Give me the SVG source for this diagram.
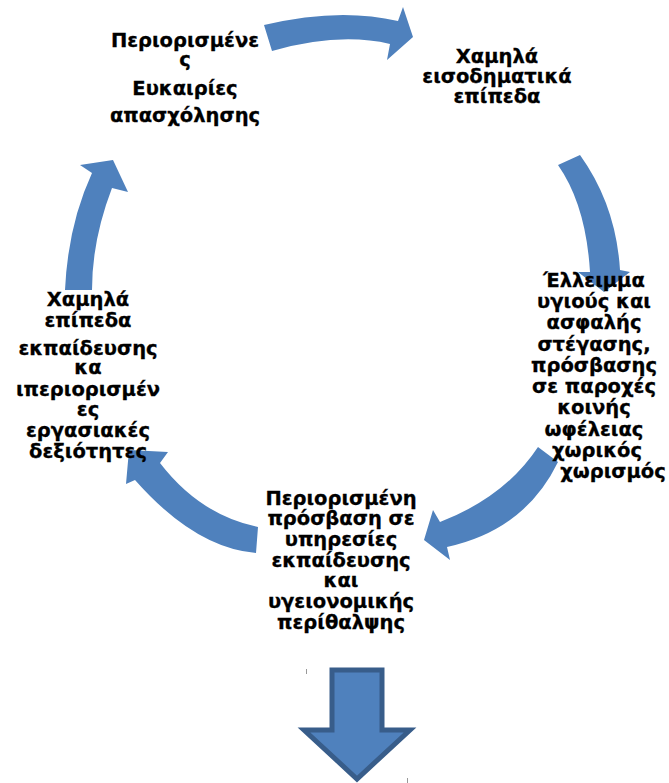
<svg xmlns="http://www.w3.org/2000/svg" width="669" height="783" viewBox="0 0 669 783">
<style>
.arr{fill:#4F81BD;stroke:none}
.t{font-family:"DejaVu Sans","Verdana",sans-serif;font-weight:bold;font-size:19.5px;fill:#000;stroke:#000;stroke-width:0.3;text-anchor:middle}
.big{fill:#4F81BD;stroke:#385D8A;stroke-width:5;stroke-linejoin:miter}
</style>
<rect width="669" height="783" fill="#fff"/>
<g id="connectors">
<path class="arr" d="M264,25 Q339,7 398,21 L403,7 L413,37 L387,60 L390,44 Q339,32 272,51 Z"/>
<path class="arr" d="M558,165 Q586,205 590,272 L578,272 L604,292 L630,272 L620,270 Q616,205 580,155 Z"/>
<path class="arr" d="M538,447 Q505,497 440,522 L433,510 L424,540 L450,560 L447,547 Q525,530 558,462 Z"/>
<path class="arr" d="M258,527 Q200,515 160,463 L168,452 L129,450 L126,484 L135,480 Q195,548 256,553 Z"/>
<path class="arr" d="M65,290 Q68,225 92,173 L80,165 L113,160 L128,192 L112,188 Q92,240 92,290 Z"/>
</g>
<g id="node-top-left">
<text class="t" x="185" y="47">Περιορισμένε</text>
<text class="t" x="185" y="66">ς</text>
<text class="t" x="185" y="95">Ευκαιρίες</text>
<text class="t" x="185" y="122">απασχόλησης</text>
</g>
<g id="node-top-right">
<text class="t" x="497" y="63">Χαμηλά</text>
<text class="t" x="497" y="83">εισοδηματικά</text>
<text class="t" x="497" y="103">επίπεδα</text>
</g>
<g id="node-right">
<text class="t" x="594" y="287">Έλλειμμα</text>
<text class="t" x="594" y="308">υγιούς και</text>
<text class="t" x="594" y="329">ασφαλής</text>
<text class="t" x="594" y="351">στέγασης,</text>
<text class="t" x="594" y="372">πρόσβασης</text>
<text class="t" x="594" y="393">σε παροχές</text>
<text class="t" x="594" y="414">κοινής</text>
<text class="t" x="594" y="436">ωφέλειας</text>
<text class="t" x="597" y="457">χωρικός</text>
<text class="t" x="613" y="478">χωρισμός</text>
</g>
<g id="node-bottom">
<text class="t" x="341" y="505">Περιορισμένη</text>
<text class="t" x="341" y="525">πρόσβαση σε</text>
<text class="t" x="341" y="546">υπηρεσίες</text>
<text class="t" x="341" y="567">εκπαίδευσης</text>
<text class="t" x="341" y="587">και</text>
<text class="t" x="341" y="608">υγειονομικής</text>
<text class="t" x="341" y="629">περίθαλψης</text>
</g>
<g id="node-left">
<text class="t" x="88" y="306">Χαμηλά</text>
<text class="t" x="88" y="327">επίπεδα</text>
<text class="t" x="88" y="355">εκπαίδευσης</text>
<text class="t" x="88" y="374">κα</text>
<text class="t" x="88" y="396">ιπεριορισμέν</text>
<text class="t" x="88" y="416">ες</text>
<text class="t" x="88" y="437">εργασιακές</text>
<text class="t" x="88" y="458">δεξιότητες</text>
</g>
<g id="down-arrow">
<polygon class="big" points="332,670 382,670 382,730 410,730 357,779 304,730 332,730"/>
<rect x="306" y="669" width="1" height="5" fill="#999"/>
<rect x="407" y="778" width="1" height="5" fill="#999"/>
</g>
</svg>
